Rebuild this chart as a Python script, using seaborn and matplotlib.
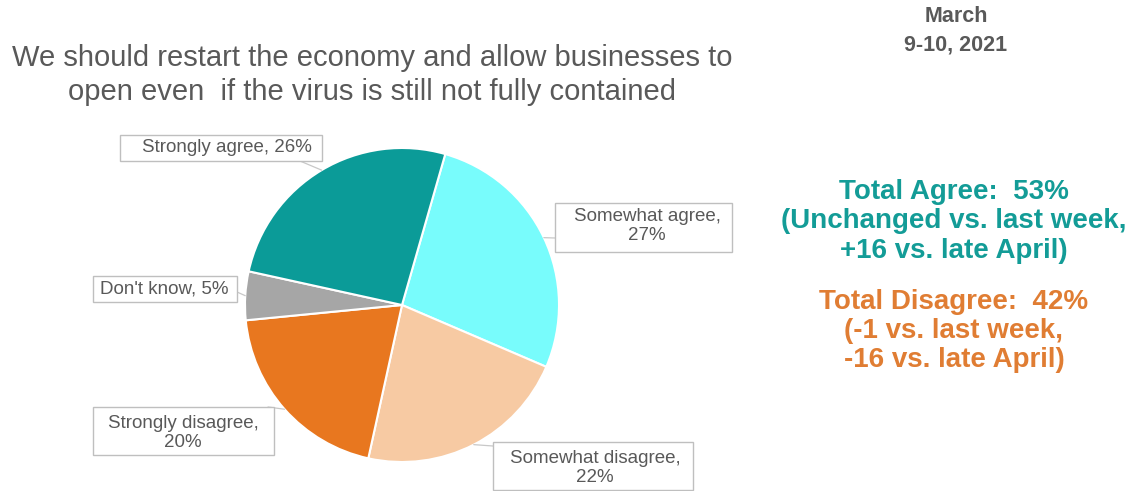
import matplotlib
matplotlib.use("Agg")
import matplotlib.pyplot as plt
from matplotlib.patches import Rectangle
import seaborn as sns
import numpy as np

sns.set_style("white")
plt.rcParams["font.family"] = ["Liberation Sans", "DejaVu Sans"]

# Survey responses (percent), drawn clockwise from the top
categories = ["Somewhat agree", "Somewhat disagree", "Strongly disagree",
              "Don't know", "Strongly agree"]
values = [27, 22, 20, 5, 26]
label_texts = ["Somewhat agree,\n27%", "Somewhat disagree,\n22%",
               "Strongly disagree,\n20%", "Don't know, 5%",
               "Strongly agree, 26%"]
colors = ["#78fcfc", "#f7caa3", "#e8771f", "#a6a6a6", "#0b9b98"]

title_lines = ["We should restart the economy and allow businesses to",
               "open even  if the virus is still not fully contained"]
date_lines = ["March", "9-10, 2021"]
agree_lines = ["Total Agree:  53%", "(Unchanged vs. last week,",
               "+16 vs. late April)"]
disagree_lines = ["Total Disagree:  42%", "(-1 vs. last week,",
                  "-16 vs. late April)"]

W, H = 1136, 491
fig = plt.figure(figsize=(W / 100, H / 100), dpi=100)

# pie axes: centre (402, 305) px, radius 157 px
cx, cy, r = 402, 305, 157
ax = fig.add_axes([(cx - r) / W, (H - cy - r) / H, 2 * r / W, 2 * r / H])
wedges, _ = ax.pie(values, colors=colors, startangle=74, counterclock=False,
                   radius=1.0, wedgeprops=dict(edgecolor="white", linewidth=1.5))
ax.set_xlim(-1, 1)
ax.set_ylim(-1, 1)
ax.set_aspect("equal")
ax.axis("off")

# callout boxes (pixel extents, top-left origin), text centres, stub anchors
boxes = [(555, 203, 732, 252), (493, 442, 693, 490), (93, 407, 274, 455),
         (93, 276, 237, 302), (120, 135, 322, 161)]
text_centres = [(647, 226), (595, 468), (183, 433), (164, 289), (227, 148)]
anchors = [(555, 238), (493, 446), (268, 407), (237, 292), (300, 161)]


def fig_px(px, py):
    return (px / W, 1 - py / H)


for w, txt, (x0, y0, x1, y1), (tx, ty), (axp, ayp) in zip(
        wedges, label_texts, boxes, text_centres, anchors):
    mid = np.deg2rad((w.theta1 + w.theta2) / 2)
    tip = (np.cos(mid), np.sin(mid))
    ax.annotate("", xy=tip, xytext=(axp, H - ayp),
                textcoords="figure pixels", annotation_clip=False,
                arrowprops=dict(arrowstyle="-", color="#c8c8c8", lw=0.9,
                                shrinkA=0, shrinkB=0))
    bx, by = fig_px(x0, y1)
    fig.patches.append(Rectangle((bx, by), (x1 - x0) / W, (y1 - y0) / H,
                                 transform=fig.transFigure, fc="white",
                                 ec="#bfbfbf", lw=1, zorder=3))
    fig.text(*fig_px(tx, ty), txt, ha="center", va="center",
             multialignment="center", fontsize=13.5, color="#595959",
             linespacing=1.2, zorder=4)

# title
for i, line in enumerate(title_lines):
    fig.text(372 / W, 1 - (58 + 34 * i) / H, line, ha="center", va="center",
             fontsize=21, color="#595959")

# date
for i, line in enumerate(date_lines):
    fig.text(956 / W, 1 - (17 + 28 * i) / H, line, ha="center", va="center",
             fontsize=15.5, color="#595959", fontweight="bold")

# summary text
for i, line in enumerate(agree_lines):
    fig.text(954 / W, 1 - (192 + 29.5 * i) / H, line, ha="center",
             va="center", fontsize=20, color="#139c97", fontweight="bold")
for i, line in enumerate(disagree_lines):
    fig.text(954 / W, 1 - (302 + 29 * i) / H, line, ha="center",
             va="center", fontsize=20, color="#e07d33", fontweight="bold")

fig.savefig("out.png", dpi=100, facecolor="white")
